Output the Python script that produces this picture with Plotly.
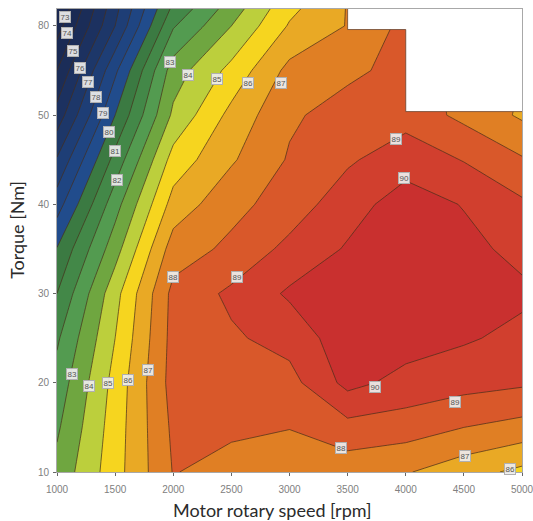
import plotly.graph_objects as go

speed_rpm = [1000, 1500, 2000, 2500, 3000, 3500, 4000, 4500, 5000]
# torque rows are placed on the chart's own non-uniform scale: the tick "80" sits one step above "50"
torque_pos = [10, 15, 20, 25, 30, 35, 40, 45, 50, 55, 60, 61.9]
y_tick_pos = [10, 20, 30, 40, 50, 60]
y_tick_text = ["10", "20", "30", "40", "50", "80"]
x_ticks = [1000, 1500, 2000, 2500, 3000, 3500, 4000, 4500, 5000]

row_10 = [83.3, 85.6, 88.05, 87.6, 87.6, 87.4, 87.08, 86.41, 85.75]
row_15 = [82.85, 85.5, 88.2, 88.2, 88.02, 88.66, 88.48, 88.0, 87.65]
row_20 = [82.4, 85.35, 88.4, 88.5, 88.65, 90.3, 89.67, 89.37, 89.15]
row_25 = [81.85, 85.0, 88.35, 88.86, 89.36, 90.6, 90.45, 90.12, 89.73]
row_30 = [81.0, 84.65, 88.3, 89.2, 90.15, 90.7, 90.7, 90.5, 90.2]
row_35 = [80.05, 83.58, 87.5, 88.22, 89.28, 90.1, 90.45, 90.28, 89.72]
row_40 = [78.55, 82.6, 86.4, 87.7, 88.45, 89.6, 90.45, 89.95, 89.17]
row_45 = [77.1, 81.35, 85.4, 86.88, 88.1, 88.85, 89.6, 88.95, 88.1]
row_50 = [75.4, 80.0, 84.2, 86.3, 87.85, 88.4, 88.6, 87.75, 86.85]
row_55 = [74.0, 78.8, 83.5, 85.3, 87.3, 87.8, 88.3, 87.8, 87.0]
row_60 = [72.55, 77.0, 81.9, 84.0, 86.1, 87.05, 88.3, 88.0, 87.0]
row_top = [72.0, 76.7, 81.25, 83.5, 85.75, 87.05, 88.2, 87.9, 87.0]
efficiency = [row_10, row_15, row_20, row_25, row_30, row_35, row_40, row_45, row_50, row_55, row_60, row_top]

band_colors = ["#1a2850", "#1a2a54", "#1b2d58", "#1c3160", "#1d3769", "#1e3e76", "#1f4582", "#214c8c",
               "#3b7a42", "#438848", "#539b50", "#6fa640", "#bccf3c", "#f6d51f", "#e9a925",
               "#e07f24", "#d9582a", "#d13f2e", "#c9302f"]
level_low, level_high = 72, 91

# white, unmeasured corner of the map
void_x = [3500, 5000, 5000, 4000, 4000, 3500, 3500]
void_y = [61.9, 61.9, 50.4, 50.4, 59.6, 59.6, 61.9]
edge_x = [3500, 3500, 4000, 4000, 5000]
edge_y = [61.9, 59.6, 59.6, 50.4, 50.4]

label_text = [73, 74, 75, 76, 77, 78, 79, 80, 81, 82, 83, 84, 85, 86, 87, 88, 89,
              83, 84, 85, 86, 87, 90, 89, 88, 87, 86, 89, 90]
label_x = [1069, 1086, 1138, 1198, 1267, 1335, 1396, 1447, 1499, 1516, 1972, 2127, 2376, 2643, 2927, 1998, 2548,
           1129, 1275, 1439, 1611, 1783, 3735, 4424, 3443, 4510, 4897, 3916, 3985]
label_y = [60.95, 59.16, 57.15, 55.24, 53.67, 51.99, 50.2, 48.07, 45.95, 42.7, 55.91, 54.46, 54.0, 53.56, 53.56, 31.84, 31.84,
           20.97, 19.63, 19.97, 20.3, 21.42, 19.52, 17.84, 12.69, 11.79, 10.34, 47.29, 42.92]

x_title = "Motor rotary speed [rpm]"
y_title = "Torque [Nm]"

n = len(band_colors)
scale = []
for i, c in enumerate(band_colors):
    scale.append([i / n, c])
    scale.append([(i + 1) / n, c])

fig = go.Figure()
fig.add_trace(go.Contour(
    x=speed_rpm, y=torque_pos, z=efficiency,
    zmin=level_low, zmax=level_high, colorscale=scale, showscale=False,
    autocontour=False,
    contours=dict(start=73, end=90, size=1, coloring="fill", showlines=True),
    line=dict(color="rgba(70,45,25,0.7)", width=1, smoothing=0),
    hoverinfo="skip",
))
fig.add_trace(go.Scatter(x=void_x, y=void_y, mode="lines", fill="toself", fillcolor="white",
                         line=dict(width=0, color="white"), hoverinfo="skip", showlegend=False))
fig.add_trace(go.Scatter(x=edge_x, y=edge_y, mode="lines",
                         line=dict(width=1, color="rgba(90,55,35,0.7)"), hoverinfo="skip", showlegend=False))

for t, lx, ly in zip(label_text, label_x, label_y):
    fig.add_annotation(x=lx, y=ly, text=str(t), showarrow=False,
                       font=dict(size=8, color="#555555", family="Liberation Sans"),
                       bgcolor="rgba(238,238,238,0.92)", bordercolor="#b0b0b0", borderwidth=1, borderpad=0.5)

title_font = dict(size=18, color="#2b2b2b", family="Lato")
fig.add_annotation(xref="paper", yref="paper", x=0.463, y=-0.082, text=x_title, showarrow=False,
                   xanchor="center", yanchor="middle", font=title_font)
fig.add_annotation(xref="paper", yref="paper", x=-0.086, y=0.523, text=y_title, showarrow=False, textangle=-90,
                   xanchor="center", yanchor="middle", font=title_font)

fig.update_layout(
    template="none",
    width=533, height=521, margin=dict(l=57, r=11, t=9, b=49),
    paper_bgcolor="white", plot_bgcolor="white", showlegend=False,
    xaxis=dict(automargin=False, range=[1000, 5000], tickvals=x_ticks, ticks="outside", ticklen=3, tickcolor="#666666",
               ticklabelstandoff=5, ticklabeloverflow="allow",
               tickfont=dict(size=10, color="#808080", family="Liberation Sans"),
               showgrid=False, zeroline=False, showline=True, mirror=True, linecolor="#a8a8a8", linewidth=1),
    yaxis=dict(automargin=False, range=[10, 61.9], tickvals=y_tick_pos, ticktext=y_tick_text, ticks="outside", ticklen=3, tickcolor="#666666",
               ticklabelstandoff=2,
               tickfont=dict(size=10, color="#808080", family="Liberation Sans"),
               showgrid=False, zeroline=False, showline=True, mirror=True, linecolor="#a8a8a8", linewidth=1),
)
fig.write_html("out.html", config=dict(displayModeBar=False),
               post_script="document.body.style.margin='0';document.body.style.overflow='hidden';")
